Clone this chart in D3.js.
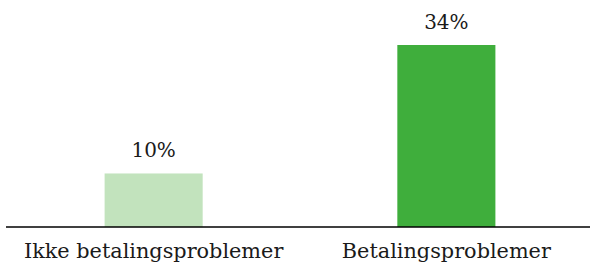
<!DOCTYPE html>
<html>
<head>
<meta charset="utf-8">
<script src="https://cdn.jsdelivr.net/npm/d3@7"></script>
<style>
  body { margin: 0; background: #fff; }
  text { font-family: "DejaVu Serif", Georgia, serif; fill: #1a1a1a; }
</style>
</head>
<body>
<div class="chart"></div>
<script>
"use strict";

var categories = ["Ikke betalingsproblemer", "Betalingsproblemer"];
var values = [10, 34];
var valueLabels = ["10%", "34%"];
var colors = ["#c2e3bd", "#3fae3c"];

var width = 590,
    height = 268;

var svg = d3.select(".chart")
          .append("svg")
          .attr("width", width)
          .attr("height", height);

var x = d3.scaleBand()
    .domain(categories)
    .range([8, 592])
    .paddingInner(0.665)
    .paddingOuter(0.33);

var y = d3.scaleLinear()
    .domain([0, 34])
    .range([227, 45]);

svg.append("g")
    .selectAll("rect")
    .data(values)
    .enter().append("rect")
        .attr("x", function(d, i){ return x(categories[i]); })
        .attr("y", function(d){ return y(d); })
        .attr("width", x.bandwidth())
        .attr("height", function(d){ return y(0) - y(d); })
        .attr("fill", function(d, i){ return colors[i]; });

// value labels over bars
svg.append("g")
    .selectAll("text")
    .data(values)
    .enter().append("text")
        .attr("x", function(d, i){ return x(categories[i]) + x.bandwidth()/2; })
        .attr("y", function(d){ return y(d) - 16; })
        .attr("text-anchor", "middle")
        .style("font-size", "20px")
        .text(function(d, i){ return valueLabels[i]; });

// baseline
svg.append("line")
    .attr("x1", 6)
    .attr("x2", 590)
    .attr("y1", y(0))
    .attr("y2", y(0))
    .style("stroke", "#000")
    .style("stroke-width", 1.5);

// category labels
svg.append("g")
    .selectAll("text")
    .data(categories)
    .enter().append("text")
        .attr("x", function(d){ return x(d) + x.bandwidth()/2; })
        .attr("y", 258)
        .attr("text-anchor", "middle")
        .style("font-size", "20.8px")
        .text(function(d){ return d; });
</script>
</body>
</html>
